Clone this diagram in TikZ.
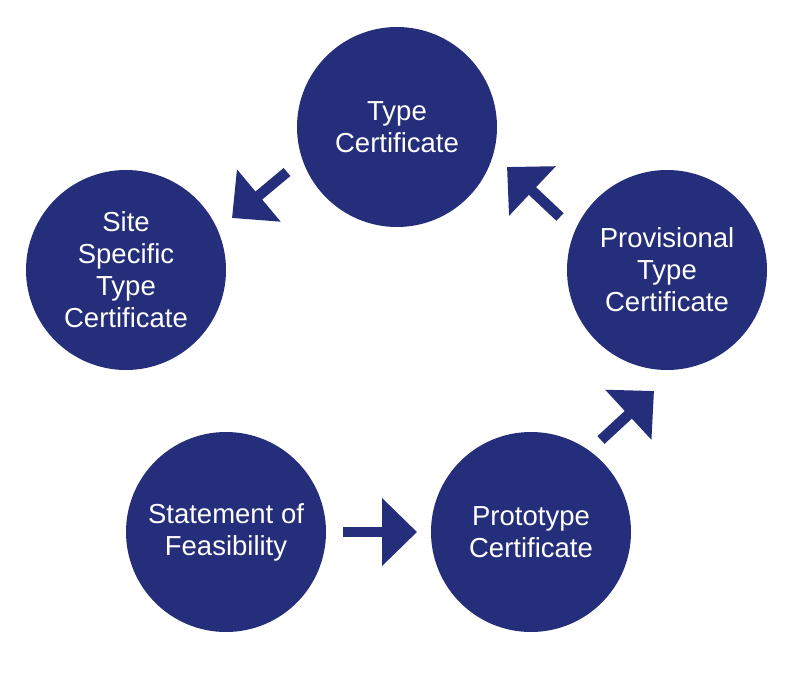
\documentclass[tikz,border=0pt]{standalone}
\usepackage{fontspec}
\setmainfont{Liberation Sans}
\usetikzlibrary{arrows.meta}
\definecolor{navy}{RGB}{37,46,122}
\tikzset{
  stage/.style={circle, fill=navy, draw=none, minimum size=200pt, inner sep=0pt,
    align=center, text=white, font=\fontsize{27.5}{32}\selectfont},
  blockarrow/.style={draw=navy, line width=10.5pt, line cap=butt,
    -{Triangle[length=35pt,width=66pt]}}
}
\begin{document}
\begin{tikzpicture}[x=1pt,y=-1pt]
\useasboundingbox (0,0) rectangle (800,679);
\node[stage] (type) at (397,127) {Type\\Certificate};
\node[stage] (site) at (126,270) {Site\\Specific\\Type\\Certificate};
\node[stage] (prov) at (667,270) {Provisional\\Type\\Certificate};
\node[stage] (stmt) at (226,532) {Statement of\\Feasibility};
\node[stage] (proto) at (531,532) {Prototype\\Certificate};
\coordinate (a1s) at (343,532);
\coordinate (a1e) at (417,532);
\coordinate (a2s) at (601,440);
\coordinate (a2e) at (654,391);
\coordinate (a3s) at (560,217);
\coordinate (a3e) at (507,167);
\coordinate (a4s) at (287,172);
\coordinate (a4e) at (232,218);
\draw[blockarrow] (a1s) -- (a1e);
\draw[blockarrow] (a2s) -- (a2e);
\draw[blockarrow] (a3s) -- (a3e);
\draw[blockarrow] (a4s) -- (a4e);
\end{tikzpicture}
\end{document}
